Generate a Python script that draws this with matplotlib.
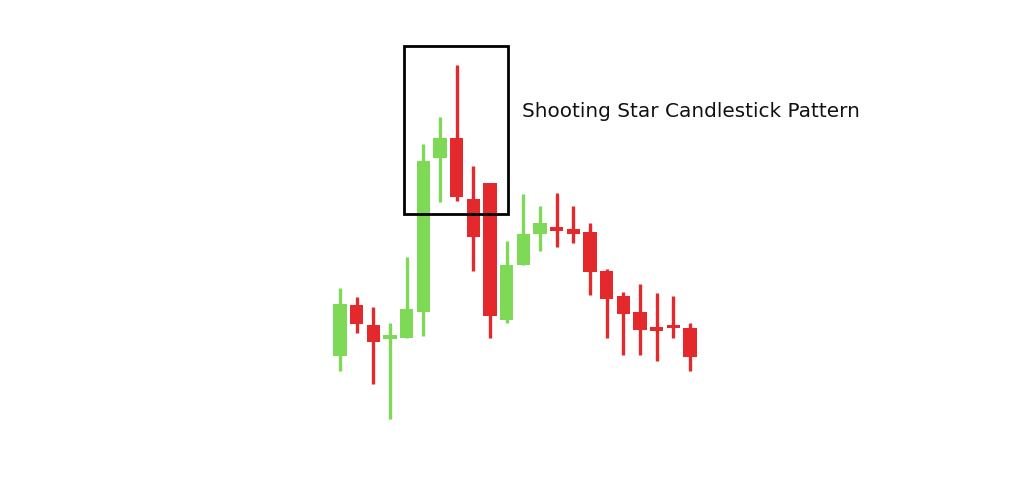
import matplotlib
matplotlib.use("Agg")
import matplotlib.pyplot as plt
from matplotlib.patches import Rectangle

opens  = [123, 174, 154, 140, 141, 167, 321, 341, 280, 296, 159, 214, 245, 251, 250, 247, 208, 183, 167, 151, 154, 151]
closes = [175, 155, 137, 144, 170, 318, 341, 282, 242, 163, 214, 245, 256, 249, 245, 207, 180, 165, 149, 149, 151, 122]
highs  = [191, 182, 172, 156, 222, 335, 362, 414, 313, 296, 238, 285, 273, 286, 273, 256, 210, 187, 195, 186, 183, 156]
lows   = [108, 146, 95, 60, 141, 143, 277, 278, 208, 141, 156, 214, 228, 232, 236, 184, 141, 124, 124, 118, 141, 108]
label_text = "Shooting Star Candlestick Pattern"

GREEN = "#7ED957"
RED = "#E3292B"

fig = plt.figure(figsize=(10.24, 4.79), dpi=100)
ax = fig.add_axes([0, 0, 1, 1])
ax.set_axis_off()
step = 16.667
ax.set_xlim(-340 / step, (1024 - 340) / step)
ax.set_ylim(0, 479)

bw = 13.5 / step
for i, (o, c, h, l) in enumerate(zip(opens, closes, highs, lows)):
    col = GREEN if c >= o else RED
    ax.vlines(i, l, h, color=col, linewidth=2.4, zorder=2)
    bot = min(o, c)
    ht = max(abs(c - o), 3.5)
    if abs(c - o) < 3.5:
        bot = (o + c) / 2 - 1.75
    ax.add_patch(Rectangle((i - bw / 2, bot), bw, ht, facecolor=col, edgecolor='none', zorder=3))

# highlight box (pixel coordinates converted to data)
x0 = (404 - 340) / step
x1 = (508 - 340) / step
ax.add_patch(Rectangle((x0, 479 - 214), x1 - x0, 214 - 46, fill=False,
                       edgecolor='black', linewidth=2, zorder=4))
ax.text((522 - 340) / step, 479 - 111, label_text, fontsize=14.4,
        va='center', ha='left', color='#111111', family='DejaVu Sans')

fig.savefig("out.png", dpi=100)
